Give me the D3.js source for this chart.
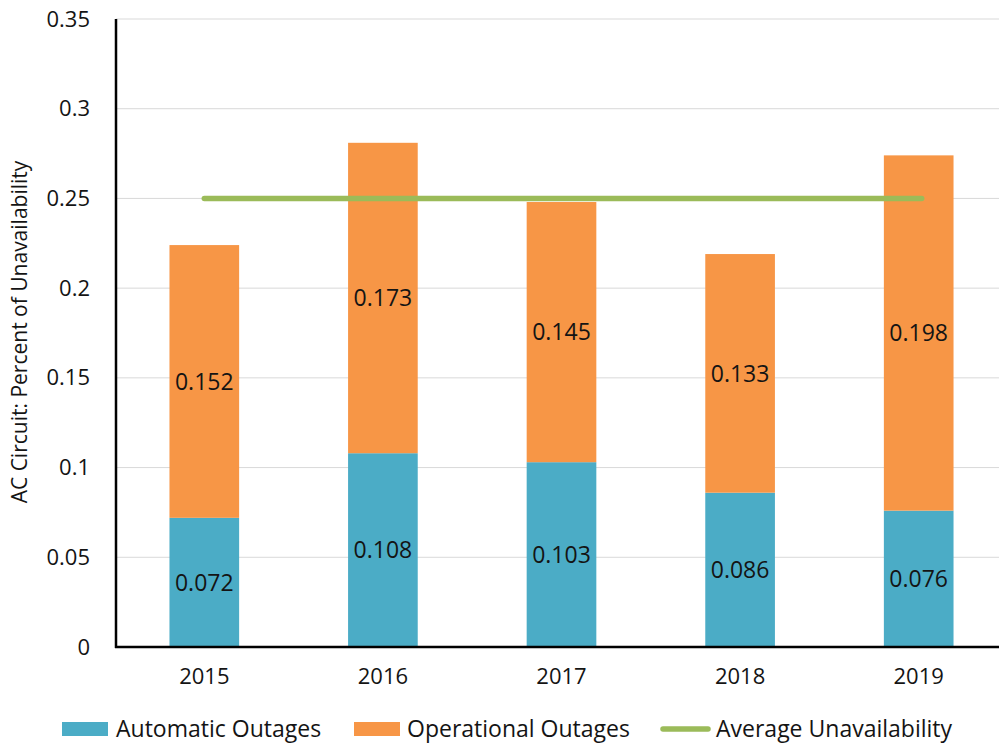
<!DOCTYPE html>
<html>
<head>
<meta charset="utf-8">
<script src="https://cdn.jsdelivr.net/npm/d3@7"></script>
<style>
  body { margin: 0; background: #fff; }
  text { font-family: "Open Sans", sans-serif; fill: #141414; }
</style>
</head>
<body>
<div id="chart"></div>
<script>
// chart data
const years = ["2015", "2016", "2017", "2018", "2019"];
const automatic = [0.072, 0.108, 0.103, 0.086, 0.076];
const operational = [0.152, 0.173, 0.145, 0.133, 0.198];
const averageUnavail = 0.25;
const yTicks = [0, 0.05, 0.1, 0.15, 0.2, 0.25, 0.3, 0.35];
const seriesNames = ["Automatic Outages", "Operational Outages", "Average Unavailability"];

const colors = { auto: "#4BACC6", oper: "#F79646", avg: "#9BBB59" };

const width = 999, height = 746;
const svg = d3.select("#chart").append("svg")
    .attr("width", width)
    .attr("height", height);

const x = d3.scaleBand().domain(years).range([115, 1008]).paddingInner(0.61).paddingOuter(0.305);
const y = d3.scaleLinear().domain([0, 0.35]).range([647, 19]);

// gridlines
svg.append("g")
    .selectAll("line")
    .data(yTicks.filter(d => d > 0))
    .join("line")
        .attr("x1", 116).attr("x2", width)
        .attr("y1", d => y(d)).attr("y2", d => y(d))
        .style("stroke", "#d9d9d9")
        .style("stroke-width", 1);

// stacked bars
const rows = years.map((yr, i) => ({ year: yr, a: automatic[i], o: operational[i] }));

const bars = svg.append("g");
bars.selectAll("rect.auto")
    .data(rows)
    .join("rect")
        .attr("class", "auto")
        .attr("x", d => x(d.year))
        .attr("width", x.bandwidth())
        .attr("y", d => y(d.a))
        .attr("height", d => y(0) - y(d.a))
        .attr("fill", colors.auto);
bars.selectAll("rect.oper")
    .data(rows)
    .join("rect")
        .attr("class", "oper")
        .attr("x", d => x(d.year))
        .attr("width", x.bandwidth())
        .attr("y", d => y(d.a + d.o))
        .attr("height", d => y(d.a) - y(d.a + d.o))
        .attr("fill", colors.oper);

// average line
svg.append("line")
    .attr("x1", x(years[0]) + x.bandwidth() / 2)
    .attr("x2", x(years[years.length - 1]) + x.bandwidth() / 2 + 3)
    .attr("y1", y(averageUnavail)).attr("y2", y(averageUnavail))
    .style("stroke", colors.avg)
    .style("stroke-width", 5.5)
    .style("stroke-linecap", "round");

// data labels
const labels = svg.append("g").style("font-size", "23px").attr("text-anchor", "middle");
labels.selectAll("text.la")
    .data(rows)
    .join("text")
        .attr("x", d => x(d.year) + x.bandwidth() / 2)
        .attr("y", d => (y(0) + y(d.a)) / 2)
        .attr("dy", "0.36em")
        .text(d => d3.format(".3f")(d.a));
labels.selectAll("text.lo")
    .data(rows)
    .join("text")
        .attr("x", d => x(d.year) + x.bandwidth() / 2)
        .attr("y", d => (y(d.a) + y(d.a + d.o)) / 2)
        .attr("dy", "0.36em")
        .text(d => d3.format(".3f")(d.o));

// axes
const yAxis = svg.append("g")
    .attr("transform", "translate(116,0)")
    .call(d3.axisLeft(y).tickValues(yTicks).tickSize(0).tickPadding(26).tickFormat(d => d === 0 ? "0" : String(+d.toFixed(2))));
yAxis.select(".domain").remove();
yAxis.selectAll("text").style("font-size", "22px").style("font-family", "'Open Sans', sans-serif").attr("fill", "#141414");

const xAxis = svg.append("g")
    .attr("transform", "translate(0,647)")
    .call(d3.axisBottom(x).tickSize(0).tickPadding(21));
xAxis.select(".domain").remove();
xAxis.selectAll("text").style("font-size", "22px").style("font-family", "'Open Sans', sans-serif").attr("fill", "#141414");

svg.append("line")
    .attr("x1", 116).attr("x2", 116).attr("y1", 19).attr("y2", 648)
    .style("stroke", "#000").style("stroke-width", 2.5);
svg.append("line")
    .attr("x1", 115).attr("x2", width).attr("y1", 647).attr("y2", 647)
    .style("stroke", "#000").style("stroke-width", 2.5);

// y title
svg.append("text")
    .attr("transform", "translate(27,332) rotate(-90)")
    .attr("text-anchor", "middle")
    .style("font-size", "21px")
    .text("AC Circuit: Percent of Unavailability");

// legend
const legend = svg.append("g").style("font-size", "23px");
const legX = [62, 354, 660];
const legTextX = [116, 407, 716];
legend.append("rect").attr("x", legX[0]).attr("y", 722).attr("width", 46).attr("height", 14).attr("fill", colors.auto);
legend.append("rect").attr("x", legX[1]).attr("y", 722).attr("width", 46).attr("height", 14).attr("fill", colors.oper);
legend.append("line").attr("x1", legX[2] + 3).attr("x2", legX[2] + 48).attr("y1", 729).attr("y2", 729)
    .style("stroke", colors.avg).style("stroke-width", 5.5).style("stroke-linecap", "round");
legend.selectAll("text")
    .data(seriesNames)
    .join("text")
        .attr("x", (d, i) => legTextX[i])
        .attr("y", 729)
        .attr("dy", "0.36em")
        .text(d => d);
</script>
</body>
</html>
